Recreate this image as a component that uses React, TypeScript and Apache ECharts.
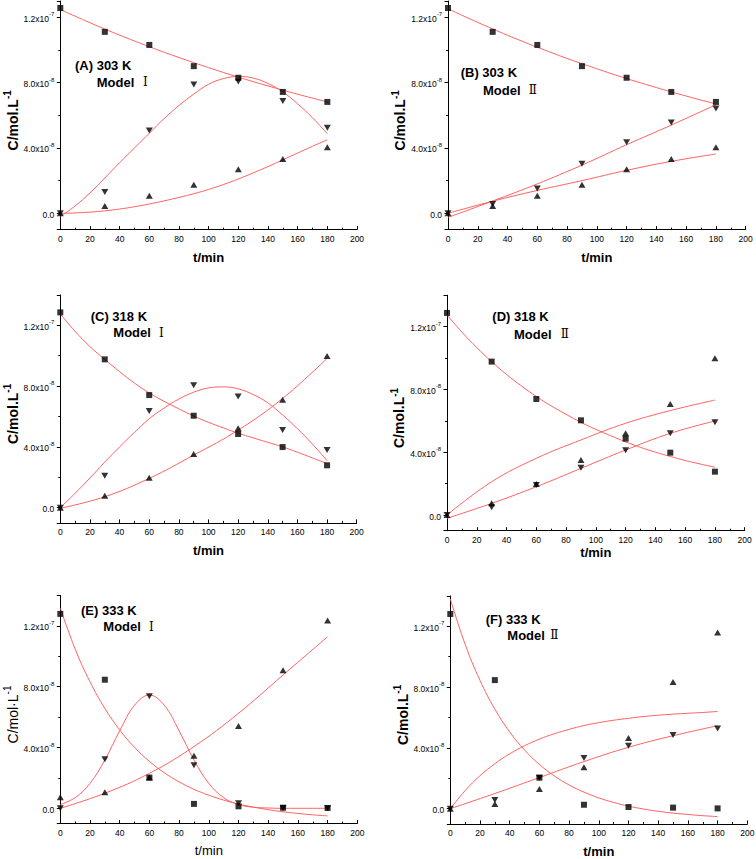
import React, { useEffect, useRef } from 'react';
import * as echarts from 'echarts';

// ---------- data (concentration in units of 1e-8 mol/L) ----------
const sampleTimes = [0, 30, 60, 90, 120, 150, 180];
const fitTimes10 = [0, 10, 20, 30, 40, 50, 60, 70, 80, 90, 100, 110, 120, 130, 140, 150, 160, 170, 180];
const fitTimes30 = [0, 30, 60, 90, 120, 150, 180];

const xTickMin = 0;
const xTickMax = 200;

const yTickValues = [0, 4, 8, 12];
const yTickMantissas = ['0.0', '4.0x10', '8.0x10', '1.2x10'];
const yTickExponents = ['', '-8', '-8', '-7'];

const panelLetters = ['A', 'B', 'C', 'D', 'E', 'F'];
const panelTemps = ['303 K', '303 K', '318 K', '318 K', '333 K', '333 K'];
const panelModels = ['Ⅰ', 'Ⅱ', 'Ⅰ', 'Ⅱ', 'Ⅰ', 'Ⅱ'];

// Panel A (303 K, Model I)
const aSquare = [12.57, 11.11, 10.31, 9.01, 8.3, 7.43, 6.82];
const aDown = [0, 1.31, 5.07, 7.89, 8.07, 6.88, 5.24];
const aUp = [0, 0.45, 1.07, 1.75, 2.69, 3.33, 4.05];
const aFitSquare = [12.48, 12.07, 11.67, 11.28, 10.91, 10.55, 10.2, 9.86, 9.54, 9.22, 8.92, 8.62, 8.34, 8.06, 7.8, 7.54, 7.29, 7.05, 6.82];
const aFitDown = [-0.2, 0.45, 1.25, 2.16, 3.1, 4.0, 4.9, 5.8, 6.6, 7.3, 7.9, 8.25, 8.38, 8.28, 7.95, 7.43, 6.7, 5.85, 4.87];
const aFitUp = [0, 0.02, 0.07, 0.15, 0.26, 0.4, 0.57, 0.76, 0.97, 1.2, 1.46, 1.76, 2.1, 2.47, 2.86, 3.27, 3.69, 4.1, 4.5];

// Panel B (303 K, Model II)
const bSquare = [12.57, 11.11, 10.31, 9.01, 8.3, 7.43, 6.82];
const bDown = [0, 0.57, 1.52, 3.04, 4.35, 5.56, 6.41];
const bUp = [0, 0.45, 1.07, 1.75, 2.69, 3.33, 4.05];
const bFitSquare = [12.53, 12.1, 11.69, 11.29, 10.9, 10.53, 10.17, 9.82, 9.48, 9.16, 8.85, 8.54, 8.25, 7.97, 7.7, 7.43, 7.18, 6.93, 6.7];
const bFitDown = [-0.25, 0.75, 1.8, 2.95, 4.2, 5.4, 6.65];
const bFitUp = [0, 0.74, 1.4, 2.0, 2.63, 3.18, 3.63];

// Panel C (318 K, Model I)
const cSquare = [12.85, 9.76, 7.41, 6.05, 4.85, 3.99, 2.79];
const cDown = [0, 2.1, 6.36, 8.05, 7.32, 5.11, 3.79];
const cUp = [0, 0.79, 1.97, 3.53, 5.22, 7.1, 9.98];
const cFitSquare = [12.74, 11.6, 10.6, 9.76, 8.95, 8.2, 7.55, 7.0, 6.5, 6.03, 5.62, 5.25, 4.9, 4.6, 4.3, 4.0, 3.65, 3.28, 2.9];
const cFitDown = [0, 0.95, 1.95, 3.0, 4.0, 4.95, 5.85, 6.55, 7.15, 7.6, 7.88, 7.95, 7.82, 7.45, 6.9, 6.1, 5.2, 4.2, 3.1];
const cFitUp = [-0.04, 0.72, 1.93, 3.46, 5.1, 7.19, 9.82];

// Panel D (318 K, Model II)
const dSquare = [12.87, 9.77, 7.39, 6.03, 4.86, 3.97, 2.76];
const dDown = [0, 0.5, 1.91, 3.01, 4.12, 5.2, 5.9];
const dUp = [0, 0.75, 1.97, 3.5, 5.2, 7.07, 9.98];
const dFitSquare = [12.74, 11.65, 10.66, 9.77, 8.95, 8.22, 7.55, 6.95, 6.41, 5.9, 5.45, 5.05, 4.66, 4.31, 4.0, 3.73, 3.47, 3.25, 3.04];
const dFitDown = [-0.21, 0.74, 1.8, 2.97, 4.14, 5.2, 5.99];
const dFitUp = [0, 2.12, 3.61, 4.78, 5.84, 6.65, 7.32];

// Panel E (333 K, Model I)
const eSquare = [12.79, 8.46, 2.02, 0.29, 0.13, 0.04, 0.02];
const eDown = [0, 3.22, 7.37, 2.83, 0.33, 0.02, 0];
const eUp = [0.72, 1.05, 2.02, 3.46, 5.42, 9.08, 12.35];
const eFitSquare = [13.16, 10.48, 8.32, 6.57, 5.16, 4.01, 3.09, 2.34, 1.74, 1.25, 0.86, 0.54, 0.28, 0.08, -0.09, -0.23, -0.34, -0.43, -0.5];
const eFitDown = [0.25, 0.7, 1.64, 3.18, 5.1, 6.78, 7.45, 6.78, 5.1, 3.18, 1.64, 0.7, 0.25, 0.07, 0.02, 0, 0, 0, 0];
const eFitUp = [0, 0.99, 2.3, 4.06, 6.25, 8.77, 11.29];

// Panel F (333 K, Model II)
const fSquare = [12.81, 8.46, 2.04, 0.26, 0.11, 0.07, 0.02];
const fDown = [0, 0.57, 2.04, 3.33, 4.14, 4.85, 5.28];
const fUp = [0, 0.31, 1.3, 2.72, 4.65, 8.33, 11.6];
const fFitSquare = [13.8, 10.81, 8.44, 6.55, 5.05, 3.86, 2.91, 2.16, 1.56, 1.09, 0.71, 0.41, 0.17, -0.02, -0.17, -0.29, -0.38, -0.46, -0.52];
const fFitDown = [0, 1.0, 2.05, 3.1, 4.04, 4.8, 5.46];
const fFitUp = [0, 1.19, 2.17, 2.96, 3.61, 4.14, 4.58, 4.93, 5.22, 5.47, 5.66, 5.82, 5.95, 6.06, 6.15, 6.22, 6.28, 6.33, 6.4];

// ---------- layout / styling ----------
const FONT = '"Liberation Sans", Arial, Helvetica, sans-serif';
const SERIF = '"DejaVu Serif", "Liberation Serif", "Noto Sans CJK SC", serif';
const RED = '#ff6262';
const INK = '#000';

type PanelCfg = {
  squares: number[]; up: number[]; down: number[];
  fitSquare: [number[], number[]]; fitUp: [number[], number[]]; fitDown: [number[], number[]];
  yMax: number;
  grid: { left: number; top: number; width: number; height: number };
  bold: boolean; yName: string; xGap: number; yGap: number;
  lab: { x1: number; y1: number; x2: number; y2: number; xr: number };
};

const panels: PanelCfg[] = [
  {
    squares: aSquare, up: aUp, down: aDown,
    fitSquare: [fitTimes10, aFitSquare], fitUp: [fitTimes10, aFitUp], fitDown: [fitTimes10, aFitDown],
    yMax: 13, grid: { left: 60.3, top: 1, width: 296.7, height: 228.6 },
    bold: true, yName: 'C/mol.L', xGap: 21, yGap: 34,
    lab: { x1: 75, y1: 65.5, x2: 96.7, y2: 82.3, xr: 143 },
  },
  {
    squares: bSquare, up: bUp, down: bDown,
    fitSquare: [fitTimes10, bFitSquare], fitUp: [fitTimes30, bFitUp], fitDown: [fitTimes30, bFitDown],
    yMax: 13, grid: { left: 448, top: 1, width: 297.7, height: 228.6 },
    bold: true, yName: 'C/mol.L', xGap: 21, yGap: 34,
    lab: { x1: 460.7, y1: 72.3, x2: 483, y2: 90, xr: 528.7 },
  },
  {
    squares: cSquare, up: cUp, down: cDown,
    fitSquare: [fitTimes10, cFitSquare], fitUp: [fitTimes30, cFitUp], fitDown: [fitTimes10, cFitDown],
    yMax: 14, grid: { left: 60.3, top: 294.9, width: 296.4, height: 228 },
    bold: true, yName: 'C/mol.L', xGap: 21, yGap: 34,
    lab: { x1: 90.7, y1: 316, x2: 113.3, y2: 332.7, xr: 159 },
  },
  {
    squares: dSquare, up: dUp, down: dDown,
    fitSquare: [fitTimes10, dFitSquare], fitUp: [fitTimes30, dFitUp], fitDown: [fitTimes30, dFitDown],
    yMax: 14, grid: { left: 447, top: 295.2, width: 297.7, height: 235.5 },
    bold: true, yName: 'C/mol.L', xGap: 14, yGap: 34,
    lab: { x1: 492.3, y1: 316.7, x2: 514, y2: 334, xr: 560.7 },
  },
  {
    squares: eSquare, up: eUp, down: eDown,
    fitSquare: [fitTimes10, eFitSquare], fitUp: [fitTimes30, eFitUp], fitDown: [fitTimes10, eFitDown],
    yMax: 14, grid: { left: 60.3, top: 595.5, width: 297, height: 228 },
    bold: false, yName: 'C/mol·L', xGap: 20, yGap: 40,
    lab: { x1: 81, y1: 610, x2: 103.3, y2: 626.7, xr: 149 },
  },
  {
    squares: fSquare, up: fUp, down: fDown,
    fitSquare: [fitTimes10, fFitSquare], fitUp: [fitTimes10, fFitUp], fitDown: [fitTimes30, fFitDown],
    yMax: 14, grid: { left: 450.3, top: 595.9, width: 297, height: 228 },
    bold: true, yName: 'C/mol.L', xGap: 21, yGap: 34,
    lab: { x1: 485.7, y1: 619.3, x2: 507.3, y2: 635.3, xr: 550.3 },
  },
];

const zip = (xs: number[], ys: number[]) => xs.map((x, i) => [x, ys[i]]);

function yLabel(v: number): string {
  const idx = yTickValues.findIndex((t) => Math.abs(t - v) < 1e-6);
  if (idx < 0) return '';
  return yTickExponents[idx]
    ? `{m|${yTickMantissas[idx]}}{e|${yTickExponents[idx]}}`
    : `{m|${yTickMantissas[idx]}}`;
}

function buildOption() {
  const grid: any[] = [];
  const xAxis: any[] = [];
  const yAxis: any[] = [];
  const series: any[] = [];
  const graphic: any[] = [];

  panels.forEach((p, i) => {
    const weight = p.bold ? 'bold' : 'normal';
    grid.push({ ...p.grid, containLabel: false, outerBoundsMode: 'none' });
    xAxis.push({
      gridIndex: i, type: 'value', min: xTickMin, max: xTickMax, interval: 20,
      axisLine: { show: true, onZero: false, lineStyle: { color: INK, width: 1 } },
      axisTick: { show: true, inside: true, length: 3.5, lineStyle: { color: INK, width: 1 } },
      minorTick: { show: true, splitNumber: 2, length: 2, lineStyle: { color: INK, width: 1 } },
      splitLine: { show: false },
      axisLabel: { show: true, fontSize: 8.5, fontFamily: FONT, color: INK, margin: 5 },
      name: 't/min', nameLocation: 'middle', nameGap: p.xGap,
      nameTextStyle: { fontSize: 13, fontWeight: weight, fontFamily: FONT, color: INK },
    });
    yAxis.push({
      gridIndex: i, type: 'value', min: -1, max: p.yMax, minInterval: 4, maxInterval: 4,
      axisLine: { show: true, onZero: false, lineStyle: { color: INK, width: 1 } },
      axisTick: { show: true, inside: false, length: 3.5, lineStyle: { color: INK, width: 1 } },
      minorTick: { show: true, splitNumber: 2, length: 2, lineStyle: { color: INK, width: 1 } },
      splitLine: { show: false },
      axisLabel: {
        show: true, margin: 6, formatter: yLabel, color: INK,
        rich: {
          m: { fontSize: 8.5, fontFamily: FONT, color: INK, lineHeight: 12, verticalAlign: 'bottom' },
          e: { fontSize: 6, fontFamily: FONT, color: INK, lineHeight: 7, verticalAlign: 'top' },
        },
      },
      name: `{a|${p.yName}}{s|-1}`, nameLocation: 'middle', nameGap: p.yGap, nameRotate: 90,
      nameTextStyle: {
        color: INK,
        padding: [0, 10, 0, 0],
        rich: {
          a: { fontSize: 14, fontWeight: weight, fontFamily: FONT, color: INK, lineHeight: 17, verticalAlign: 'bottom' },
          s: { fontSize: 10, fontWeight: weight, fontFamily: FONT, color: INK, lineHeight: 10, verticalAlign: 'top' },
        },
      },
    });

    const line = (d: [number[], number[]]) => ({
      type: 'line', xAxisIndex: i, yAxisIndex: i, data: zip(d[0], d[1]),
      showSymbol: false, symbol: 'none', smooth: 0.4, silent: true, z: 2,
      lineStyle: { color: RED, width: 1 },
    });
    series.push(line(p.fitSquare), line(p.fitUp), line(p.fitDown));
    series.push({
      type: 'scatter', xAxisIndex: i, yAxisIndex: i, data: zip(sampleTimes, p.down),
      symbol: 'triangle', symbolRotate: 180, symbolSize: [7, 6], itemStyle: { color: INK }, z: 3, silent: true,
    });
    series.push({
      type: 'scatter', xAxisIndex: i, yAxisIndex: i, data: zip(sampleTimes, p.up),
      symbol: 'triangle', symbolSize: [7, 6], itemStyle: { color: INK }, z: 3, silent: true,
    });
    series.push({
      type: 'scatter', xAxisIndex: i, yAxisIndex: i, data: zip(sampleTimes, p.squares),
      symbol: 'rect', symbolSize: 6, itemStyle: { color: INK }, z: 4, silent: true,
    });

    graphic.push(
      {
        type: 'text', x: p.lab.x1, y: p.lab.y1, silent: true,
        style: { text: `(${panelLetters[i]}) ${panelTemps[i]}`, fontSize: 13, fontWeight: 'bold', fontFamily: FONT, fill: INK, verticalAlign: 'middle', align: 'left' },
      },
      {
        type: 'text', x: p.lab.x2, y: p.lab.y2, silent: true,
        style: { text: 'Model', fontSize: 13, fontWeight: 'bold', fontFamily: FONT, fill: INK, verticalAlign: 'middle', align: 'left' },
      },
      {
        type: 'text', x: p.lab.xr, y: p.lab.y2, silent: true,
        style: { text: panelModels[i], fontSize: 12, fontWeight: 'normal', fontFamily: SERIF, fill: INK, verticalAlign: 'middle', align: 'left' },
      },
    );
  });

  return {
    animation: false,
    backgroundColor: '#fff',
    grid, xAxis, yAxis, series, graphic,
  };
}

export default function App() {
  const ref = useRef<HTMLDivElement>(null);
  useEffect(() => {
    if (!ref.current) return;
    const chart = echarts.init(ref.current, null, { renderer: 'svg' });
    chart.setOption(buildOption() as any);
    return () => chart.dispose();
  }, []);
  return (
    <div
      ref={ref}
      style={{ position: 'fixed', left: 0, top: 0, width: 756, height: 859, background: '#fff' }}
    />
  );
}
